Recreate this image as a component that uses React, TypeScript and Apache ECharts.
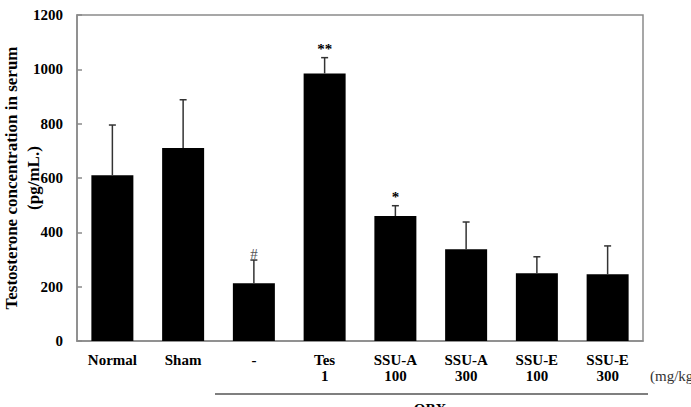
import React, { useEffect, useRef } from "react";
import * as echarts from "echarts";

const categories = ["Normal", "Sham", "-", "Tes\n1", "SSU-A\n100", "SSU-A\n300", "SSU-E\n100", "SSU-E\n300"];
const means = [610, 710, 213, 985, 460, 338, 249, 246];
const sds = [185, 178, 85, 58, 38, 100, 61, 104];
const marks = ["", "", "#", "**", "*", "", "", ""];
const yTicks = { min: 0, max: 1200, interval: 200 };
const yTitleLines = ["Testosterone concentration in serum", "(pg/mL.)"];

const FONT = "'Liberation Serif', 'Times New Roman', serif";

export default function App() {
  const ref = useRef<HTMLDivElement>(null);
  useEffect(() => {
    if (!ref.current) return;
    const chart = echarts.init(ref.current, null, { renderer: "svg" });
    const errData = means.map((m, i) => [i, m, m + sds[i], marks[i]]);
    chart.setOption({
      animation: false,
      backgroundColor: "#fff",
      grid: {
        left: 77,
        right: 48,
        top: 15,
        bottom: 66,
        containLabel: false,
        outerBoundsMode: "none",
        show: true,
        borderColor: "#8a8a8a",
        borderWidth: 1.5,
        backgroundColor: "transparent",
      },
      xAxis: {
        type: "category",
        data: categories,
        axisLine: { lineStyle: { color: "#8a8a8a", width: 1.5 } },
        axisTick: { show: false },
        axisLabel: {
          interval: 0,
          margin: 11,
          color: "#000",
          fontFamily: FONT,
          fontWeight: "bold",
          fontSize: 15,
          lineHeight: 16,
        },
      },
      yAxis: {
        type: "value",
        min: yTicks.min,
        max: yTicks.max,
        interval: yTicks.interval,
        splitLine: { show: false },
        axisLine: { show: true, lineStyle: { color: "#8a8a8a", width: 1.5 } },
        axisTick: { show: true, inside: true, length: 5, lineStyle: { color: "#8a8a8a", width: 1.5 } },
        axisLabel: {
          margin: 14,
          color: "#000",
          fontFamily: FONT,
          fontWeight: "bold",
          fontSize: 15,
          formatter: (v: number) => String(v),
        },
      },
      series: [
        {
          type: "bar",
          data: means,
          barWidth: 42,
          itemStyle: { color: "#000" },
          z: 2,
        },
        {
          type: "custom",
          data: errData,
          z: 3,
          renderItem: (params: any, api: any) => {
            const i = api.value(0);
            const base = api.coord([i, api.value(1)]);
            const top = api.coord([i, api.value(2)]);
            const mark = marks[params.dataIndex];
            const children: any[] = [
              {
                type: "line",
                shape: { x1: base[0], y1: base[1], x2: top[0], y2: top[1] },
                style: { stroke: "#333", lineWidth: 1.5 },
              },
              {
                type: "line",
                shape: { x1: top[0] - 3.5, y1: top[1], x2: top[0] + 3.5, y2: top[1] },
                style: { stroke: "#333", lineWidth: 1.5 },
              },
            ];
            if (mark) {
              children.push({
                type: "text",
                x: top[0],
                y: top[1] + (mark === "#" ? 1 : -1),
                style: {
                  text: mark,
                  fill: mark === "#" ? "#555" : "#000",
                  font: (mark === "#" ? "normal " : "bold ") + "15px " + FONT,
                  textAlign: "center",
                  textVerticalAlign: "bottom",
                },
              });
            }
            return { type: "group", children };
          },
        },
      ],
      graphic: [
        {
          type: "text",
          x: 11,
          y: 178,
          rotation: Math.PI / 2,
          style: { text: yTitleLines[0], font: "bold 17px " + FONT, fill: "#000", textAlign: "center", textVerticalAlign: "middle" },
        },
        {
          type: "text",
          x: 33,
          y: 178,
          rotation: Math.PI / 2,
          style: { text: yTitleLines[1], font: "bold 17px " + FONT, fill: "#000", textAlign: "center", textVerticalAlign: "middle" },
        },
        {
          type: "line",
          shape: { x1: 215, y1: 394, x2: 648, y2: 394 },
          style: { stroke: "#555", lineWidth: 1.5 },
        },
        {
          type: "text",
          x: 430,
          y: 401,
          style: { text: "OBX", font: "bold 15px " + FONT, fill: "#000", textAlign: "center", textVerticalAlign: "top" },
        },
        {
          type: "text",
          x: 650,
          y: 376,
          style: { text: "(mg/kg)", font: "normal 15px " + FONT, fill: "#333", textAlign: "left", textVerticalAlign: "middle" },
        },
      ],
    });
    return () => chart.dispose();
  }, []);
  return <div ref={ref} style={{ width: 691, height: 407, position: "absolute", left: 0, top: 0 }} />;
}
